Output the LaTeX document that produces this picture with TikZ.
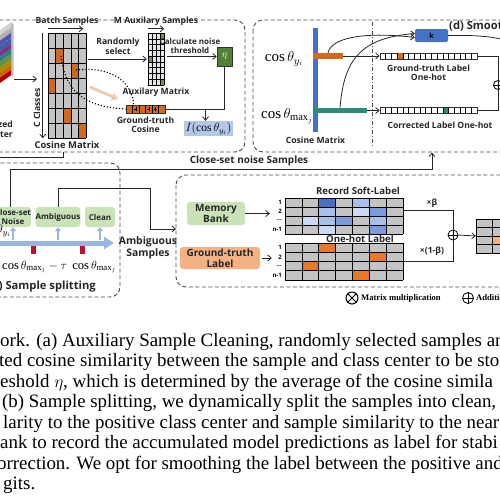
\documentclass[tikz,border=0pt]{standalone}
\usepackage{fontspec}
\setmainfont{Liberation Serif}
\newfontfamily\labfont{Open Sans}
\usetikzlibrary{arrows.meta,positioning,calc}

\definecolor{cellgray}{HTML}{C4C4C4}
\definecolor{cosorange}{HTML}{CF6A1E}
\definecolor{hotorange}{HTML}{E8792A}
\definecolor{barblue}{HTML}{4472C4}
\definecolor{etagreen}{HTML}{548235}
\definecolor{boxgreen}{HTML}{C9E2B8}
\definecolor{boxorange}{HTML}{F4B183}
\definecolor{indblue}{HTML}{B4C7E7}
\definecolor{tealbar}{HTML}{2E8B75}
\definecolor{arrblue}{HTML}{9AB5E0}
\definecolor{markred}{HTML}{C0102A}
\definecolor{blueA}{HTML}{4A6FC7}
\definecolor{blueB}{HTML}{7C9BDB}
\definecolor{blueC}{HTML}{A8BFE8}
\definecolor{blueD}{HTML}{CCD9F0}

\tikzset{
  lab/.style={font=\labfont\bfseries\fontsize{8.6}{9.8}\selectfont,align=center,inner sep=0pt,text=black!85},
  biglab/.style={lab,font=\labfont\bfseries\fontsize{10}{11.4}\selectfont},
  ttl/.style={lab,font=\labfont\bfseries\fontsize{11.2}{12}\selectfont},
  pill/.style={rounded corners=3pt,inner sep=0pt,align=center,text=black!85,font=\labfont\bfseries\fontsize{8}{9}\selectfont},
  rowlab/.style={inner sep=0pt,font=\labfont\bfseries\fontsize{6}{6.5}\selectfont,anchor=east},
  blk/.style={draw=black!80,line width=0.6pt,inner sep=0pt},
  dashbox/.style={draw=black!70,dash pattern=on 4pt off 2.5pt,line width=0.9pt,rounded corners=10pt},
  conn/.style={draw=black!85,line width=0.8pt},
  arr/.style={-{Straight Barb[length=3.5pt,width=6pt]}},
  uparr/.style={draw=arrblue,line width=2.2pt,-{Triangle[length=4pt,width=6pt]}},
  mth/.style={inner sep=0pt,font=\fontsize{15}{16}\selectfont},
  captxt/.style={font=\fontsize{18.9}{20}\selectfont,inner sep=0pt,anchor=base west},
}

\begin{document}
\begin{tikzpicture}[x=1pt,y=-1pt]
    \useasboundingbox (0,0) rectangle (500,499);
    \clip (0,0) rectangle (500,499);

    \draw [dashbox] (-20,20) rectangle (245,152);
    \draw [dashbox] (253,20) rectangle (540,152);
    \draw [dashbox] (-20,163) rectangle (120,297);
    \draw [dashbox] (176,175) rectangle (540,287);

    \foreach \col [count=\i from 0] in {gray!35,gray!60,blue!35!gray,barblue!85!black,violet!60!gray,teal!65!gray,etagreen!90,olive!80!orange,orange!80!black,red!70!black}
        \fill [\col] (-10,37+\i*5.3) -- (11,22.3+\i*5.3) -- (11,27.6+\i*5.3) -- (-10,42.3+\i*5.3) -- cycle;
    \fill [black,opacity=0.25] (11,22.3) -- (13.5,24) -- (13.5,77) -- (11,75.3) -- cycle;
    \coordinate (cubeout) at (14,79);
    \node [lab,anchor=east,align=right] (normtxt) at (13,129) {Normalized\\Parameter};

    \node [inner sep=0pt,fill=cellgray,minimum width=38,minimum height=105] (cosmat) at (67,85.5) {};
    \foreach \c/\r in {1/1,3/2,0/3,2/5,4/6}
        \fill [cosorange] (48+\c*7.6,33+\r*15) rectangle ++(7.6,15);
    \foreach \c in {0,...,5}
        \draw [line width=0.6pt] (48+\c*7.6,33) -- ++(0,105);
    \foreach \r in {0,...,7}
        \draw [line width=0.6pt] (48,33+\r*15) -- ++(38,0);
    \node [lab,above=7pt of cosmat] (batch) {Batch Samples};
    \draw [conn,arr] ([yshift=4]cosmat.north west) to ([xshift=-3,yshift=4]cosmat.north east);
    \node [biglab,font=\labfont\bfseries\fontsize{9.4}{10}\selectfont,below=3pt of cosmat] (costxt) {Cosine Matrix};
    \node [lab,rotate=90] (cclass) at (37,108) {C Classes};
    \draw [conn,arr] ([xshift=-5]cosmat.north west) to ([xshift=-5]cosmat.south west);
    \draw [conn,arr] (cubeout) to (cubeout -| cclass.east);

    \node [lab] (randsel) at (118,46) {Randomly\\select};
    \node [inner sep=0pt,fill=gray!20,minimum width=16,minimum height=52] (aux) at (156,59) {};
    \foreach \c/\r in {3/0,0/4,3/8}
        \fill [etagreen!85] (148+\c*4,33+\r*5.78) rectangle ++(4,5.78);
    \foreach \c in {0,...,4}
        \draw [line width=0.5pt] (148+\c*4,33) -- ++(0,52);
    \foreach \r in {0,...,9}
        \draw [line width=0.5pt] (148,33+\r*5.78) -- ++(16,0);
    \node [lab,above=7pt of aux] (msamp) {M Auxilary Samples};
    \draw [conn,arr] ([yshift=4]aux.north west) to ([yshift=4]aux.north east);
    \node [lab,below=3pt of aux] (auxtxt) {Auxilary Matrix};
    \draw [conn,arr,shorten <=2pt] (cosmat.east |- aux.west) to ([xshift=-1]aux.west);

    \node [blk,fill=etagreen,minimum width=15,minimum height=19,text=white] (eta) at (224.5,56.5) {$\eta$};
    \node [lab,font=\labfont\bfseries\fontsize{8}{9.4}\selectfont] (calc) at (190,46) {Calculate noise\\threshold};
    \draw [conn,arr] ([xshift=3]aux.east |- eta.west) to (eta.west);

    \node [blk,fill=cosorange,minimum width=39,minimum height=8] (gtcos) at (145.5,109) {};
    \foreach \c in {1,...,5}
        \draw [line width=0.5pt] (126+\c*6.5,105) -- ++(0,8);
    \foreach \c in {1,3,4}
        \draw [line width=0.5pt] (127.65+\c*6.5,109) -- ++(3.2,0) (129.25+\c*6.5,107.4) -- ++(0,3.2);
    \node [lab,below=3pt of gtcos] (gtcostxt) {Ground-truth\\Cosine};
    \node [inner sep=0pt,fill=indblue,minimum width=49,minimum height=15,font=\fontsize{11.5}{12}\selectfont] (ind) at (208.5,128.5) {$I(\cos\theta_{y_i})$};
    \draw [conn] (eta.south) |- (gtcos.east);
    \draw [conn,arr] ([xshift=-3]ind.north |- gtcos.east) to ([xshift=-3]ind.north);

    \coordinate (cellA) at (61,56);
    \coordinate (cellB) at (76,70);
    \draw [dotted,line width=1.1pt] (cellA) .. controls (66,98) and (92,107) .. (gtcos.west);
    \draw [dotted,line width=1.1pt] (cellB) .. controls (112,66) and (132,82) .. ([xshift=8]gtcos.north west);
    \draw [line width=3pt,cosorange!35,-{Triangle[length=6pt,width=8pt]}] (90,87) to (118,99);

    \coordinate (abot) at (63,152);
    \draw [conn] (abot) |- (-10,157);

    \node [pill,fill=boxgreen,minimum width=34,minimum height=20] (noise) at (13,217) {Close-set\\Noise};
    \node [pill,fill=boxgreen,minimum width=44,minimum height=20] (amb) at (58,217) {Ambiguous};
    \node [pill,fill=boxgreen,minimum width=30,minimum height=20] (clean) at (100,217) {Clean};
    \draw [line width=5pt,arrblue,-{Triangle[length=10pt,width=12pt]}] (-5,243) to (114,243);
    \foreach \n in {noise,amb,clean}
        \draw [uparr] (\n.south |- 0,240) to (\n.south);
    \node [fill=markred,minimum width=5,minimum height=8,inner sep=0pt] (lowmk) at (33,250) {};
    \node [fill=markred,minimum width=5,minimum height=8,inner sep=0pt] (highmk) at (82,250) {};
    \node [mth,anchor=east,font=\fontsize{13}{14}\selectfont] (thy) at (11,231) {$\cos\theta_{y_i}$};
    \node [mth,anchor=west,font=\fontsize{12.6}{14}\selectfont] (thr) at (2,267) {$\cos\theta_{\max_j}-\tau\ \cos\theta_{\max_j}$};
    \node [ttl,anchor=east] (btitle) at (96,287) {(b) Sample splitting};

    \coordinate (dbot) at (432,152.5);
    \draw [conn,arr] ([xshift=-3]noise.north) |- (dbot |- 0,169) to (dbot);
    \node [biglab] (closetxt) at (249,161) {Close-set noise Samples};
    \coordinate (ambin) at (176,229);
    \draw [conn,arr] (amb.north) |- (150,188) |- (ambin);
    \node [biglab,font=\labfont\bfseries\fontsize{10.4}{11.5}\selectfont] (ambtxt) at (148,248) {Ambiguous\\Samples};

    \node [pill,fill=boxgreen,minimum width=58,minimum height=23,font=\labfont\bfseries\fontsize{10}{11}\selectfont] (mem) at (216,213.5) {Memory\\Bank};
    \node [pill,fill=boxorange,minimum width=80,minimum height=22,font=\labfont\bfseries\fontsize{10}{11}\selectfont] (gtl) at (220,258) {Ground-truth\\Label};

    \node [inner sep=0pt,fill=cellgray,minimum width=118,minimum height=36] (rec) at (344,216) {};
    \foreach \c/\r/\k in {2/0/blueA,4/0/blueC,2/1/blueC,4/1/blueD,5/1/blueB,1/2/blueD,2/2/blueC,3/2/blueB,5/2/blueC,2/3/blueD,5/3/blueB}
        \fill [\k] (285+\c*16.857,198+\r*9) rectangle ++(16.857,9);
    \foreach \c in {0,...,7}
        \draw [line width=0.6pt] (285+\c*16.857,198) -- ++(0,36);
    \foreach \r in {0,...,4}
        \draw [line width=0.6pt] (285,198+\r*9) -- ++(118,0);
    \foreach \lbl [count=\i from 0] in {1,2,\ldots,n-1}
        \node [rowlab] (recr\i) at (282,202.5+\i*9) {\lbl};
    \node [lab,font=\labfont\bfseries\fontsize{9.6}{10}\selectfont] (rectxt) at (358,191) {Record Soft-Label};

    \node [inner sep=0pt,fill=cellgray,minimum width=118,minimum height=37] (onehot) at (344,261.5) {};
    \foreach \c/\r in {2/0,5/1,1/2,4/3}
        \fill [hotorange] (285+\c*16.857,243+\r*9.25) rectangle ++(16.857,9.25);
    \foreach \c in {0,...,7}
        \draw [line width=0.6pt] (285+\c*16.857,243) -- ++(0,37);
    \foreach \r in {0,...,4}
        \draw [line width=0.6pt] (285,243+\r*9.25) -- ++(118,0);
    \foreach \lbl [count=\i from 0] in {1,2,\ldots,n-1}
        \node [rowlab] (hotr\i) at (282,247.6+\i*9.25) {\lbl};
    \node [lab,font=\labfont\bfseries\fontsize{9.6}{10}\selectfont] (hottxt) at (360,239) {One-hot Label};

    \draw [conn,arr] (mem.east) to ([xshift=-15]rec.west |- mem.east);
    \draw [conn,arr] ([xshift=2]gtl.east) to ([xshift=-13]onehot.west |- gtl.east);

    \node [circle,draw,fill=white,line width=0.8pt,minimum size=10,inner sep=0pt] (plus) at (453,235) {};
    \draw [line width=0.8pt] (plus.north) -- (plus.south) (plus.west) -- (plus.east);
    \draw [conn] ([yshift=6]rec.east) -| (plus.north);
    \draw [conn] (onehot.east) -| (plus.south);
    \node [lab] (betatxt) at (432,203) {×β};
    \node [lab] (obetatxt) at (432,251) {×(1-β)};

    \node [inner sep=0pt,fill=cellgray,minimum width=64,minimum height=34] (outm) at (508,236) {};
    \fill [boxorange] (492,236) rectangle ++(16,8.5);
    \foreach \c in {0,...,4}
        \draw [line width=0.6pt] (476+\c*16,219) -- ++(0,34);
    \foreach \r in {0,...,4}
        \draw [line width=0.6pt] (476,219+\r*8.5) -- ++(64,0);
    \draw [conn,arr] (plus.east) to (outm.west);

    \node [circle,draw,line width=1pt,minimum size=12,inner sep=0pt] (mulc) at (352,298) {};
    \draw [line width=1pt] (mulc.north west) -- (mulc.south east) (mulc.north east) -- (mulc.south west);
    \node [anchor=west,inner sep=0pt,font=\bfseries\fontsize{8.6}{9}\selectfont] (multxt) at (361,298) {Matrix multiplication};
    \node [circle,draw,line width=0.8pt,minimum size=11,inner sep=0pt] (addc) at (468,298) {};
    \draw [line width=0.8pt] (addc.north) -- (addc.south) (addc.west) -- (addc.east);
    \node [anchor=west,inner sep=0pt,font=\bfseries\fontsize{8.6}{9}\selectfont] (addtxt) at (476,298) {Addition};

    \draw [line width=0.8pt,black!70,dash pattern=on 4pt off 2pt on 1pt off 2pt] (372,22) -- (372,146);
    \node [fill=barblue,minimum width=5,minimum height=104,inner sep=0pt] (cbar) at (315.5,80) {};
    \node [fill=cosorange,minimum width=30,minimum height=6,inner sep=0pt] (obar) at (328,56) {};
    \node [fill=tealbar,minimum width=54,minimum height=5.5,inner sep=0pt] (tbar) at (340,110.5) {};
    \node [mth] (cy) at (284,59) {$\cos\theta_{y_i}$};
    \node [mth] (cmx) at (287,116) {$\cos\theta_{\max_j}$};
    \node [lab,below=5pt of cbar] (cbartxt) {Cosine Matrix};

    \node [blk,fill=white,minimum width=97,minimum height=6] (gts) at (428.5,56) {};
    \fill [cosorange] (380+3*5.706,53) rectangle ++(5.706,6);
    \node [blk,fill=white,minimum width=97,minimum height=5.5] (crs) at (428.5,110.5) {};
    \fill [tealbar] (380+11*5.706,107.75) rectangle ++(5.706,5.5);
    \foreach \c in {1,...,16}
        \draw [line width=0.5pt] (380+\c*5.706,53) -- ++(0,6) (380+\c*5.706,107.75) -- ++(0,5.5);
    \node [lab,below=5pt of gts] (gtstxt) {Ground-truth Label\\One-hot};
    \node [lab] (crstxt) at (440,125) {Corrected Label One-hot};
    \draw [conn,arr] (obar.east) to (gts.west);
    \draw [conn,arr] (tbar.east) to (crs.west);

    \node [fill=barblue,rounded corners=2pt,minimum width=33,minimum height=13,inner sep=0pt,font=\labfont\bfseries\fontsize{7}{8}\selectfont] (kbox) at (431.5,35.5) {k};
    \node [ttl,anchor=west] (dtitle) at (449,27) {(d) Smoothing};
    \draw [conn,arr] (obar.north) .. controls (332,36) and (370,32) .. ([yshift=-2]kbox.west);
    \draw [conn,arr] (tbar.north) .. controls (344,60) and (360,38) .. ([yshift=2]kbox.west);
    \draw [conn] (kbox.east) .. controls (480,35) and (505,36) .. (530,50);

    \node [circle,draw,fill=white,line width=0.8pt,minimum size=9,inner sep=0pt] (plusd) at (498,85) {};
    \draw [line width=0.8pt] (plusd.north) -- (plusd.south) (plusd.west) -- (plusd.east);
    \draw [conn] (gts.east) -| (plusd.north);
    \draw [conn] (crs.east) -| (plusd.south);

    \node [captxt] (cap1) at (0,346) {ork. (a) Auxiliary Sample Cleaning, randomly selected samples are};
    \node [captxt] (cap2) at (-1,366.5) {ted cosine similarity between the sample and class center to be sto};
    \node [captxt] (cap3) at (0,387) {eshold $\eta$, which is determined by the average of the cosine simila};
    \node [captxt] (cap4) at (2,407.5) {(b) Sample splitting, we dynamically split the samples into clean, a};
    \node [captxt] (cap5) at (3,428) {larity to the positive class center and sample similarity to the near};
    \node [captxt] (cap6) at (0,448.5) {ank to record the accumulated model predictions as label for stabi};
    \node [captxt] (cap7) at (-3,469) {orrection. We opt for smoothing the label between the positive and};
    \node [captxt] (cap8) at (3,489.5) {gits.};
\end{tikzpicture}
\end{document}
